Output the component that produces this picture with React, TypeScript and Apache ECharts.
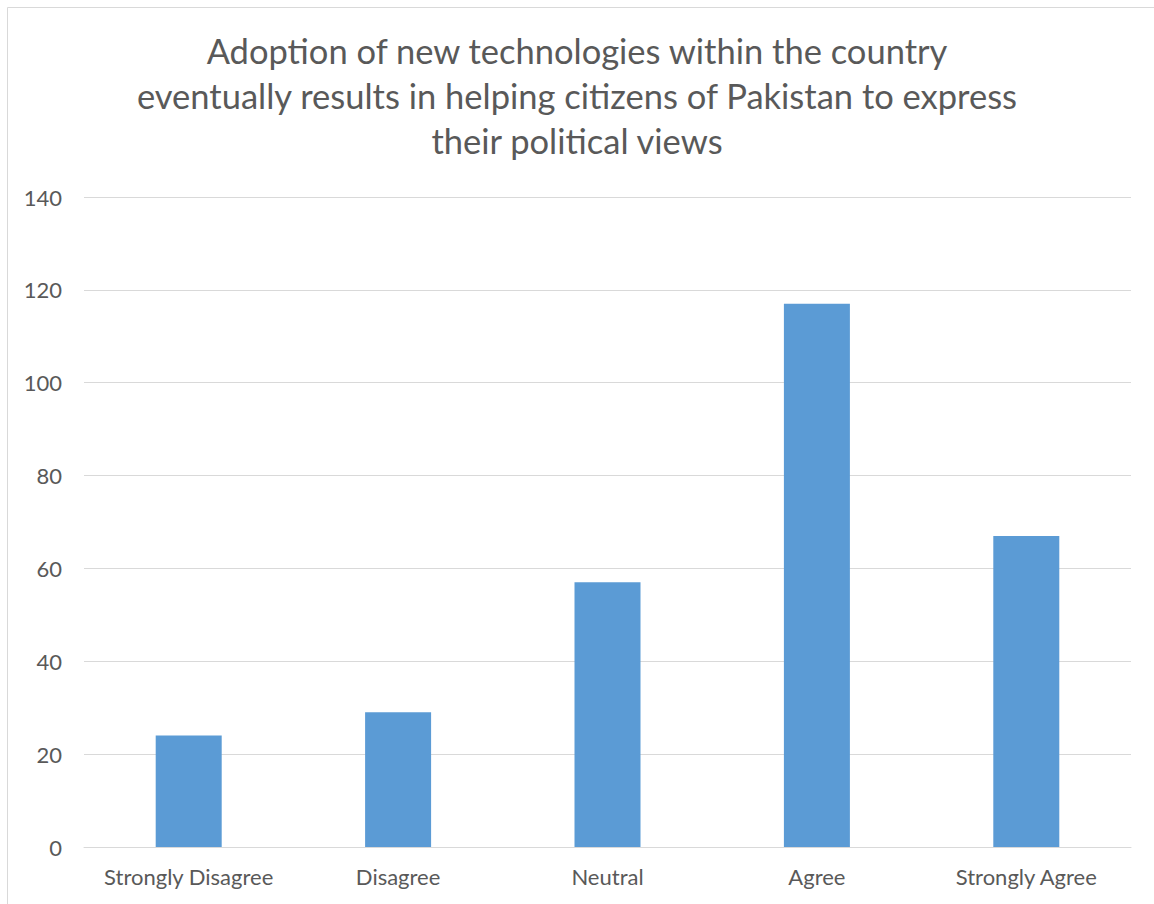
import React, { useEffect, useRef } from "react";
import * as echarts from "echarts";

const categories = ["Strongly Disagree", "Disagree", "Neutral", "Agree", "Strongly Agree"];
const values = [24, 29, 57, 117, 67];
const titleText =
  "Adoption of new technologies within the country\neventually results in helping citizens of Pakistan to express\ntheir political views";

const FONT = "Lato";

export default function App() {
  const ref = useRef<HTMLDivElement>(null);
  useEffect(() => {
    if (!ref.current) return;
    const chart = echarts.init(ref.current, undefined, { renderer: "svg" });
    chart.setOption({
      animation: false,
      backgroundColor: "#ffffff",
      title: {
        text: titleText,
        left: "center",
        top: 23,
        textStyle: {
          fontFamily: FONT,
          fontSize: 34.5,
          fontWeight: "normal",
          color: "#595959",
          lineHeight: 45,
        },
      },
      graphic: [
        {
          type: "rect",
          shape: { x: 7.5, y: 7.5, width: 1300, height: 1000 },
          style: { fill: "none", stroke: "#d9d9d9", lineWidth: 1 },
          silent: true,
        },
      ],
      grid: { left: 84, right: 23, top: 197, bottom: 57 },
      xAxis: {
        type: "category",
        data: categories,
        axisLine: { show: true, lineStyle: { color: "#d9d9d9", width: 1 } },
        axisTick: { show: false },
        axisLabel: {
          color: "#595959",
          fontFamily: FONT,
          fontSize: 22,
          margin: 18,
          interval: 0,
        },
      },
      yAxis: {
        type: "value",
        min: 0,
        max: 140,
        interval: 20,
        axisLine: { show: false },
        axisTick: { show: false },
        splitLine: { lineStyle: { color: "#d9d9d9", width: 1 } },
        axisLabel: { color: "#595959", fontFamily: FONT, fontSize: 22, margin: 22 },
      },
      series: [
        {
          type: "bar",
          data: values,
          barWidth: 66,
          itemStyle: { color: "#5b9bd5" },
        },
      ],
    });
    return () => chart.dispose();
  }, []);
  return (
    <div
      ref={ref}
      style={{ position: "absolute", left: 0, top: 0, width: 1154, height: 904 }}
    />
  );
}
